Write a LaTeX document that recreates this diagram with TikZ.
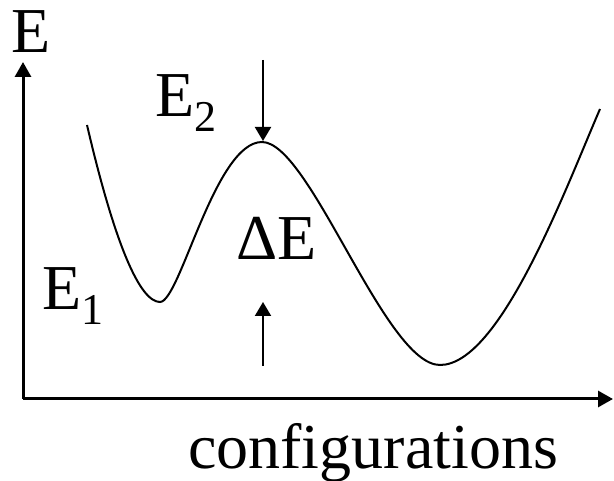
\documentclass[tikz,border=0pt]{standalone}
\usepackage{fontspec}
\setmainfont{Liberation Serif}
\usetikzlibrary{arrows.meta}
\newcommand{\lowsub}[1]{\raisebox{-15pt}{\fontsize{44}{46}\selectfont #1}}
\tikzset{
  lbl/.style={inner sep=0pt, anchor=base west, font=\fontsize{64}{70}\selectfont},
  axis/.style={line width=3pt, -{Triangle[width=16pt,length=15pt]}},
  marker/.style={line width=2pt, -{Triangle[width=16pt,length=14pt]}}
}
\begin{document}
\begin{tikzpicture}[x=1pt, y=-1pt]
\useasboundingbox (0,0) rectangle (614,481);
% Axes
\coordinate (origin) at (23,399);
\coordinate (ytip) at (23,62);
\coordinate (xtip) at (613,399);
\draw[axis] (origin) -- (ytip);
\draw[axis] (origin) -- (xtip);
% Axis labels
\node[lbl] (elabel) at (11,53) {E};
\node[lbl] (conf) at (188,468) {configurations};
% Energy landscape
\draw[line width=2pt]
  (87,125) .. controls (115,245) and (140,302) .. (160,302)
  .. controls (180,302) and (215,142) .. (262,142)
  .. controls (310,142) and (385,365) .. (440,365)
  .. controls (500,365) and (565,190) .. (600,109);
% Barrier markers
\coordinate (topstart) at (263,60);
\coordinate (peak) at (263,141);
\coordinate (botstart) at (263,366);
\coordinate (botend) at (263,302);
\draw[marker] (topstart) -- (peak);
\draw[marker] (botstart) -- (botend);
% Level labels
\node[lbl] (eone) at (42,310) {E\lowsub{1}};
\node[lbl] (etwo) at (155,117) {E\lowsub{2}};
\node[lbl] (de) at (236,260) {ΔE};
\end{tikzpicture}
\end{document}
